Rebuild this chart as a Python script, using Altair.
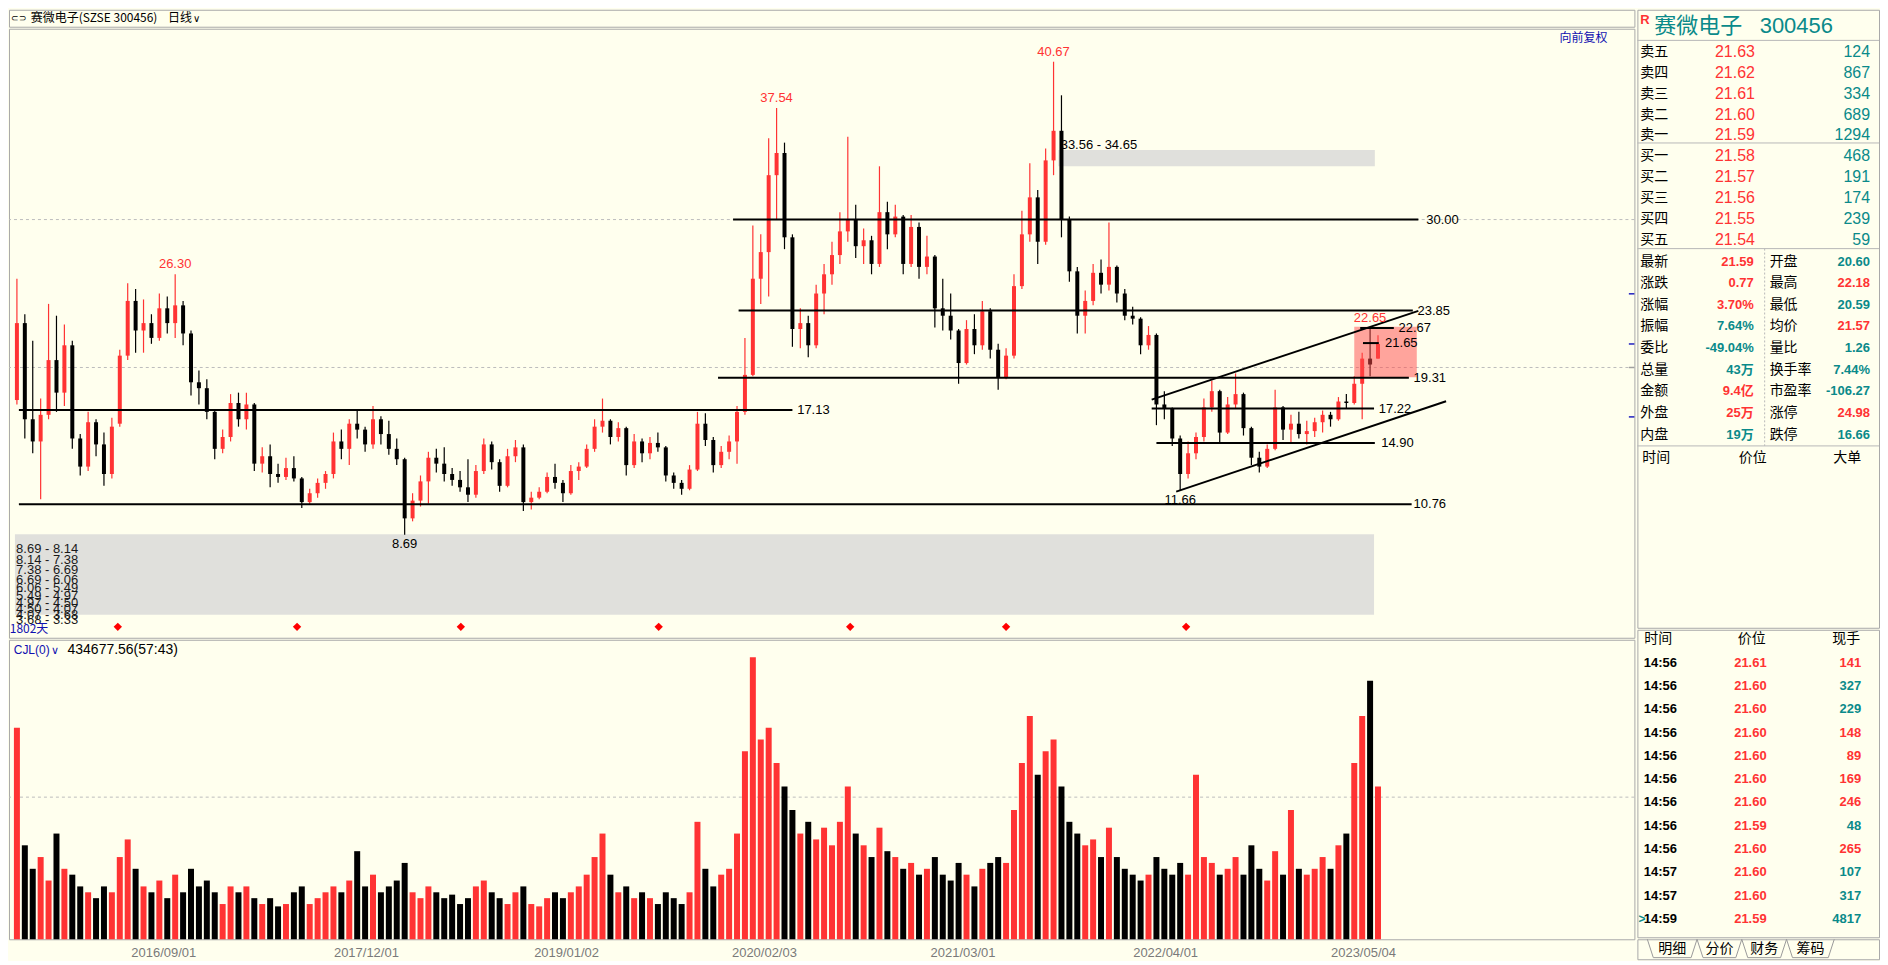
import altair as alt
import pandas as pd

# ---------------- price series (one candle per ~10 trading days) ----------------
opens = [17.8, 23.0, 16.5, 15.0, 16.8, 20.5, 18.3, 21.5, 15.2, 13.3,
         16.3, 14.8, 12.8, 16.2, 20.8, 24.5, 22.5, 23.0, 22.0, 24.0,
         23.0, 24.2, 22.3, 19.0, 18.6, 17.0, 14.5, 15.3, 17.6, 16.5,
         17.5, 13.5, 14.0, 12.8, 12.6, 13.2, 12.5, 10.9, 11.5, 12.2,
         12.8, 15.0, 14.5, 16.2, 15.8, 14.8, 16.5, 15.5, 14.5, 13.8,
         9.8, 11.0, 12.3, 13.9, 13.5, 12.8, 12.4, 11.9, 11.4, 13.0,
         14.8, 13.6, 12.0, 14.0, 14.6, 10.9, 11.2, 11.6, 12.6, 12.2,
         11.5, 13.0, 13.3, 14.5, 16.0, 16.4, 15.3, 15.9, 13.4, 15.0,
         14.2, 14.9, 14.6, 12.7, 12.2, 11.8, 13.1, 16.2, 15.1, 13.4,
         14.3, 15.0, 17.0, 19.5, 26.0, 27.8, 33.0, 34.5, 28.8, 22.6,
         23.0, 21.5, 25.0, 26.3, 27.6, 29.2, 30.0, 28.2, 28.6, 27.0,
         30.5, 29.0, 30.2, 27.0, 29.5, 26.8, 27.5, 24.0, 23.5, 22.5,
         20.3, 22.6, 21.5, 23.8, 21.2, 19.3, 20.8, 25.5, 29.0, 31.5,
         28.5, 34.0, 36.0, 30.0, 26.5, 23.5, 24.5, 26.4, 25.6, 26.8,
         25.0, 23.5, 23.3, 21.5, 22.2, 17.5, 17.2, 15.2, 12.8, 14.2,
         15.3, 17.3, 18.4, 15.6, 17.5, 18.2, 15.9, 13.9, 13.3, 14.5,
         17.3, 15.8, 16.2, 15.5, 15.7, 16.3, 16.8, 16.5, 17.7, 17.6,
         18.9, 20.6, 20.60]
highs = [26.0, 23.6, 21.8, 17.9, 24.3, 23.5, 22.9, 21.8, 15.5, 17.0,
         16.5, 15.6, 16.6, 21.2, 25.7, 25.3, 24.6, 23.6, 25.0, 24.8,
         26.3, 24.5, 22.5, 19.8, 19.2, 17.2, 15.8, 18.2, 18.3, 18.3,
         17.6, 14.6, 14.8, 13.5, 13.9, 14.0, 12.6, 11.8, 12.5, 13.0,
         15.6, 15.8, 16.5, 17.2, 16.0, 17.4, 16.7, 16.4, 15.2, 13.9,
         11.5, 12.7, 14.3, 14.5, 14.6, 13.2, 13.0, 13.8, 13.4, 15.2,
         15.0, 13.8, 14.5, 15.1, 14.8, 11.6, 11.9, 12.9, 13.5, 12.4,
         13.4, 13.6, 14.8, 16.5, 17.9, 16.5, 16.3, 16.0, 15.5, 15.2,
         15.3, 15.6, 14.7, 12.9, 12.4, 13.4, 17.0, 16.9, 15.3, 14.7,
         15.4, 17.4, 22.0, 29.6, 29.0, 35.5, 37.54, 35.2, 29.0, 24.0,
         23.5, 25.6, 27.0, 28.5, 30.5, 35.6, 31.0, 29.4, 28.9, 33.6,
         31.2, 31.0, 30.3, 30.3, 29.8, 28.9, 27.6, 26.0, 25.0, 22.6,
         23.2, 23.6, 24.5, 24.0, 21.6, 21.3, 26.3, 30.6, 33.8, 32.0,
         34.8, 40.67, 38.4, 30.2, 26.8, 25.2, 27.0, 27.3, 29.8, 26.9,
         25.3, 24.1, 23.4, 22.8, 22.3, 18.4, 17.3, 15.4, 15.0, 15.6,
         17.9, 19.1, 18.5, 18.0, 19.6, 18.3, 16.0, 14.3, 14.8, 18.5,
         17.4, 16.8, 17.0, 16.4, 16.6, 17.1, 17.0, 18.0, 18.2, 19.4,
         21.0, 22.65, 22.18]
lows = [17.5, 15.2, 14.2, 11.1, 16.5, 17.0, 17.4, 14.5, 12.7, 13.0,
        14.0, 12.0, 12.5, 16.0, 20.5, 21.0, 21.0, 21.6, 21.8, 22.3,
        22.0, 21.5, 18.1, 17.5, 16.5, 13.8, 14.2, 15.0, 16.0, 15.8,
        13.0, 12.9, 11.9, 12.2, 12.4, 12.3, 10.5, 10.7, 11.2, 11.8,
        12.5, 13.8, 13.4, 15.2, 14.3, 14.5, 14.8, 14.1, 13.4, 8.69,
        9.6, 10.6, 10.8, 12.9, 12.3, 12.0, 11.6, 10.9, 11.2, 12.8,
        13.1, 11.6, 11.9, 13.6, 10.3, 10.4, 11.1, 11.5, 11.8, 10.9,
        11.4, 12.4, 13.2, 14.3, 15.6, 14.8, 15.0, 12.7, 13.2, 13.6,
        13.8, 14.3, 12.3, 11.8, 11.4, 11.7, 13.0, 14.7, 12.9, 13.2,
        13.8, 13.5, 16.8, 19.4, 24.3, 24.8, 30.0, 28.0, 21.4, 21.3,
        20.7, 21.3, 23.6, 25.6, 27.0, 28.5, 27.4, 27.0, 26.3, 26.8,
        28.0, 28.8, 26.3, 26.8, 26.0, 26.3, 22.7, 22.5, 21.9, 18.9,
        20.2, 20.9, 21.2, 20.6, 18.5, 19.2, 20.6, 25.3, 28.5, 27.0,
        28.3, 33.0, 28.8, 25.8, 22.3, 22.3, 24.2, 25.0, 25.2, 24.4,
        23.2, 22.9, 20.9, 21.2, 16.1, 16.5, 14.7, 11.66, 12.5, 13.8,
        15.0, 17.0, 14.9, 15.5, 17.2, 15.4, 13.4, 12.9, 13.2, 14.4,
        15.1, 14.9, 15.2, 14.8, 15.3, 15.6, 16.0, 16.4, 17.2, 17.5,
        16.5, 19.4, 20.59]
closes = [23.0, 16.5, 15.0, 16.8, 20.5, 18.3, 21.5, 15.2, 13.3, 16.3,
          14.8, 12.8, 16.0, 20.8, 24.5, 22.5, 23.0, 22.0, 24.0, 23.0,
          24.2, 22.3, 19.0, 18.6, 17.0, 14.5, 15.3, 17.6, 16.5, 17.5,
          13.5, 14.0, 12.8, 12.6, 13.2, 12.5, 10.9, 11.5, 12.2, 12.8,
          15.0, 14.5, 16.2, 15.8, 14.8, 16.5, 15.5, 14.5, 13.8, 9.8,
          11.0, 12.3, 13.9, 13.5, 12.8, 12.4, 11.9, 11.4, 13.0, 14.8,
          13.6, 12.0, 14.0, 14.6, 10.9, 11.2, 11.6, 12.6, 12.2, 11.5,
          13.0, 13.3, 14.5, 16.0, 16.4, 15.3, 15.9, 13.4, 15.0, 14.2,
          14.9, 14.6, 12.7, 12.2, 11.8, 13.1, 16.2, 15.1, 13.4, 14.3,
          15.0, 17.0, 19.5, 26.0, 27.8, 33.0, 34.5, 28.8, 22.6, 23.0,
          21.5, 25.0, 26.3, 27.6, 29.2, 30.0, 28.2, 28.6, 27.0, 30.5,
          29.0, 30.2, 27.0, 29.5, 26.8, 27.5, 24.0, 23.5, 22.5, 20.3,
          22.6, 21.5, 23.8, 21.2, 19.3, 20.8, 25.5, 29.0, 31.5, 28.5,
          34.0, 36.0, 30.0, 26.5, 23.5, 24.5, 26.4, 25.6, 26.8, 25.0,
          23.5, 23.3, 21.5, 22.2, 17.5, 17.2, 15.2, 12.8, 14.2, 15.3,
          17.3, 18.4, 15.6, 17.5, 18.2, 15.9, 13.9, 13.3, 14.5, 17.3,
          15.8, 16.2, 15.5, 15.7, 16.3, 16.8, 16.5, 17.7, 17.6, 18.9,
          20.6, 20.2, 21.59]
volumes = [180, 80, 60, 70, 50, 90, 60, 55, 45, 40,
           35, 45, 40, 70, 85, 60, 45, 40, 50, 35,
           55, 40, 60, 45, 50, 40, 30, 45, 40, 45,
           35, 30, 35, 28, 30, 40, 45, 30, 35, 40,
           45, 40, 50, 75, 45, 55, 40, 45, 50, 65,
           40, 35, 45, 40, 35, 38, 30, 35, 45, 50,
           40, 35, 30, 40, 45, 30, 28, 35, 40, 35,
           40, 45, 55, 70, 90, 55, 40, 45, 35, 40,
           35, 30, 40, 35, 30, 40, 100, 60, 45, 55,
           60, 90, 160, 240, 170, 180, 150, 130, 110, 90,
           100, 85, 95, 80, 100, 130, 90, 80, 70, 95,
           75, 70, 60, 65, 55, 60, 70, 55, 50, 65,
           55, 45, 60, 65, 70, 65, 110, 150, 190, 140,
           160, 170, 130, 100, 90, 80, 85, 70, 95, 70,
           60, 55, 50, 55, 70, 60, 55, 65, 55, 140,
           70, 65, 55, 60, 70, 55, 80, 60, 50, 75,
           55, 110, 60, 55, 60, 70, 60, 80, 90, 150,
           190, 220, 130]

# ---------------- x-axis dates ----------------
date_labels = ["2016/09/01", "2017/12/01", "2019/01/02", "2020/02/03",
               "2021/03/01", "2022/04/01", "2023/05/04"]
date_index = [18.5, 44.1, 69.4, 94.4, 119.5, 145.1, 170.1]

# ---------------- drawn levels / channels ----------------
level_price = [30.00, 23.85, 19.31, 17.13, 17.22, 14.90, 10.76, 22.67, 21.65]
level_from = [90.5, 91.2, 88.6, 0.25, 143.4, 144.0, 0.25, 169.75, 170.1]
level_to = [177.1, 176.4, 175.9, 98.0, 171.5, 171.6, 176.25, 174.0, 172.1]
level_label_at = [178.1, 177.0, 176.5, 98.6, 172.1, 172.4, 176.5, 174.6, 172.9]

channel_from_i = [143.4, 146.5]
channel_from_p = [17.83, 11.61]
channel_to_i = [177.1, 180.6]
channel_to_p = [23.83, 17.72]

band_from = [131.6, -0.25]
band_to = [171.6, 171.5]
band_low = [33.60, 3.28]
band_high = [34.71, 8.73]
band_top_label = ["33.56 - 34.65"]
band_top_label_at = [131.9]

chip_upper = [8.69, 8.14, 7.38, 6.69, 6.06, 5.49, 4.97, 4.50, 4.07, 3.68]
chip_lower = [8.14, 7.38, 6.69, 6.06, 5.49, 4.97, 4.50, 4.07, 3.68, 3.33]

zone_from, zone_to, zone_low, zone_high = [169.0], [176.9], [19.34], [22.76]

peak_index = [20, 96, 131, 171]
trough_index = [49, 147]
signal_index = [12.75, 35.4, 56.1, 81.1, 105.3, 125.0, 147.75]

grid_prices = [30, 20]
vol_grid = [121]
edge_tick_prices = [24.98, 21.59, 16.66, 20.00]
edge_tick_kind = ["mark", "mark", "mark", "grid"]

# ---------------- right panel data ----------------
stock_name = "赛微电子"
stock_code = "300456"
ob_labels = ["卖五", "卖四", "卖三", "卖二", "卖一", "买一", "买二", "买三", "买四", "买五"]
ob_prices = [21.63, 21.62, 21.61, 21.60, 21.59, 21.58, 21.57, 21.56, 21.55, 21.54]
ob_volumes = [124, 867, 334, 689, 1294, 468, 191, 174, 239, 59]

stat_labels_1 = ["最新", "涨跌", "涨幅", "振幅", "委比", "总量", "金额", "外盘", "内盘"]
stat_values_1 = ["21.59", "0.77", "3.70%", "7.64%", "-49.04%", "43万", "9.4亿", "25万", "19万"]
stat_tone_1 = ["up", "up", "up", "down", "down", "down", "up", "up", "down"]
stat_labels_2 = ["开盘", "最高", "最低", "均价", "量比", "换手率", "市盈率", "涨停", "跌停"]
stat_values_2 = ["20.60", "22.18", "20.59", "21.57", "1.26", "7.44%", "-106.27", "24.98", "16.66"]
stat_tone_2 = ["down", "up", "down", "up", "down", "down", "down", "up", "down"]

trade_times = ["14:56"] * 9 + ["14:57", "14:57", "14:59"]
trade_prices = [21.61, 21.60, 21.60, 21.60, 21.60, 21.60, 21.60, 21.59, 21.60, 21.60, 21.60, 21.59]
trade_qty = [141, 327, 229, 148, 89, 169, 246, 48, 265, 107, 317, 4817]
trade_side = ["B", "S", "S", "B", "B", "B", "B", "S", "B", "S", "S", "S"]
tab_names = ["明细", "分价", "财务", "筹码"]

# ---------------- style / layout ----------------
BG = "#ffffee"
RED = "#ff3333"
TEAL = "#0a8a8a"
BLUE = "#1010b0"
BAND = "#e0e0dc"
GRID = "#bdbdbd"
NUM = "Liberation Sans"
CJK = "Noto Sans CJK SC"
CANDLE_COL = {"up": RED, "down": "#000000"}
QUOTE_COL = {"up": RED, "down": TEAL}
SIDE_COL = {"B": RED, "S": TEAL}
TICK_COL = {"mark": "#2020c0", "grid": "#a0a0a0"}

W_L, W_R = 1628, 242
H_TITLE, H_MAIN, H_VOL = 17, 610, 300
H_RT, H_RB, H_TAB = 619, 308, 20

xs = alt.Scale(domain=[-1, 204.4], nice=False, zero=False)
ys = alt.Scale(domain=[1.73, 42.90], nice=False, zero=False)
vs = alt.Scale(domain=[0, 255], nice=False, zero=False)


def qx(f, axis=None):
    return alt.X(f"{f}:Q", scale=xs, axis=axis, title=None)


def qy(f, sc=ys):
    return alt.Y(f"{f}:Q", scale=sc, axis=None, title=None)


def raw_color(field):
    return alt.Color(f"{field}:N", scale=None, legend=None)


def text_layer(df, xf, yf, xsc, ysc, align="left", size=14, font=NUM, weight="normal",
               color="#000000", baseline="middle", text="text:N", dx=0, dy=0, xaxis=None):
    enc = {"x": alt.X(f"{xf}:Q", scale=xsc, axis=xaxis, title=None),
           "y": alt.Y(f"{yf}:Q", scale=ysc, axis=None, title=None),
           "text": text}
    kw = dict(align=align, baseline=baseline, fontSize=size, font=font,
              fontWeight=weight, dx=dx, dy=dy)
    if isinstance(color, str):
        kw["color"] = color
    else:
        enc["color"] = color
    return alt.Chart(df).mark_text(**kw).encode(**enc)


n = len(closes)
candles = pd.DataFrame({
    "i": list(range(n)), "open": opens, "high": highs, "low": lows, "close": closes,
    "vol": volumes, "base": [0] * n,
})
candles["col"] = [CANDLE_COL["up"] if c >= o else CANDLE_COL["down"] for o, c in zip(opens, closes)]

# ---------------- title bar ----------------
ty = alt.Scale(domain=[0, 1], nice=False, zero=False)
title_bar = alt.layer(
    text_layer(pd.DataFrame({"x": [-0.75], "y": [0.5], "text": ["⊂⊃"]}), "x", "y", xs, ty, size=9),
    text_layer(pd.DataFrame({"x": [1.75, 19.1], "y": [0.5, 0.5],
                             "text": [f"{stock_name}(SZSE {stock_code})", "日线"]}),
               "x", "y", xs, ty, size=12, font=CJK),
    text_layer(pd.DataFrame({"x": [22.3], "y": [0.45], "text": ["∨"]}), "x", "y", xs, ty, size=10),
).properties(width=W_L, height=H_TITLE)

# ---------------- main price panel ----------------
grid = alt.Chart(pd.DataFrame({"p": grid_prices})).mark_rule(
    color=GRID, strokeDash=[3, 3], strokeWidth=1).encode(y=qy("p"))

bands = alt.Chart(pd.DataFrame({"x0": band_from, "x1": band_to, "lo": band_low, "hi": band_high})
                  ).mark_rect(color=BAND).encode(x=qx("x0"), x2="x1:Q", y=qy("lo"), y2="hi:Q")

wicks = alt.Chart(candles).mark_rule(strokeWidth=1.2).encode(
    x=qx("i"), y=qy("low"), y2="high:Q", color=raw_color("col"))
bodies = alt.Chart(candles).mark_rule(strokeWidth=4).encode(
    x=qx("i"), y=qy("open"), y2="close:Q", color=raw_color("col"))

zone = alt.Chart(pd.DataFrame({"x0": zone_from, "x1": zone_to, "lo": zone_low, "hi": zone_high})
                 ).mark_rect(color="#ff4a4a", opacity=0.5).encode(x=qx("x0"), x2="x1:Q", y=qy("lo"), y2="hi:Q")

levels_df = pd.DataFrame({"price": level_price, "x0": level_from, "x1": level_to, "lx": level_label_at})
levels = alt.Chart(levels_df).mark_rule(color="#000000", strokeWidth=2).encode(
    x=qx("x0"), x2="x1:Q", y=qy("price"))
level_labels = text_layer(levels_df, "lx", "price", xs, ys, size=13,
                          text=alt.Text("price:Q", format=".2f"))

channels = alt.Chart(pd.DataFrame({"x0": channel_from_i, "p0": channel_from_p,
                                   "x1": channel_to_i, "p1": channel_to_p})
                     ).mark_rule(color="#000000", strokeWidth=2).encode(
    x=qx("x0"), x2="x1:Q", y=qy("p0"), y2="p1:Q")

peaks_df = pd.DataFrame({"i": peak_index, "high": [highs[k] for k in peak_index]})
peak_labels = text_layer(peaks_df, "i", "high", xs, ys, align="center", size=13, color=RED,
                         baseline="bottom", dy=-3, text=alt.Text("high:Q", format=".2f"))
troughs_df = pd.DataFrame({"i": trough_index, "low": [lows[k] for k in trough_index]})
trough_labels = text_layer(troughs_df, "i", "low", xs, ys, align="center", size=13,
                           baseline="top", dy=3, text=alt.Text("low:Q", format=".2f"))

chip_df = pd.DataFrame({"x": [-0.1] * len(chip_lower), "lo": chip_lower,
                        "text": [f"{a:.2f} - {b:.2f}" for a, b in zip(chip_upper, chip_lower)]})
chip_labels = text_layer(chip_df, "x", "lo", xs, ys, size=13, color="#1a1a1a", baseline="top")
band_label = text_layer(pd.DataFrame({"x": band_top_label_at, "p": [band_high[0]], "text": band_top_label}),
                        "x", "p", xs, ys, size=13, baseline="bottom", dy=2)

SIGNAL_LEVEL = 2.47
diamonds = alt.Chart(pd.DataFrame({"i": signal_index, "p": [SIGNAL_LEVEL] * len(signal_index)})
                     ).mark_point(shape="diamond", filled=True, color="#ff0000", size=70, opacity=1).encode(
    x=qx("i"), y=qy("p"))

days_label = text_layer(pd.DataFrame({"x": [-0.9], "p": [2.3], "text": ["1802天"]}),
                        "x", "p", xs, ys, size=12, font=CJK, color=BLUE)
fq_label = text_layer(pd.DataFrame({"x": [201.0], "p": [42.25], "text": ["向前复权"]}),
                      "x", "p", xs, ys, align="right", size=12, font=CJK, color=BLUE)

ticks_df = pd.DataFrame({"x0": [203.7] * 4, "x1": [204.4] * 4, "p": edge_tick_prices,
                         "col": [TICK_COL[k] for k in edge_tick_kind]})
ticks = alt.Chart(ticks_df).mark_rule(strokeWidth=1.5).encode(
    x=qx("x0"), x2="x1:Q", y=qy("p"), color=raw_color("col"))

main = alt.layer(grid, bands, wicks, bodies, zone, levels, channels, level_labels,
                 peak_labels, trough_labels, chip_labels, band_label, diamonds,
                 days_label, fq_label, ticks).properties(width=W_L, height=H_MAIN)

# ---------------- volume panel ----------------
expr = "''"
for p, lab in reversed(list(zip(date_index, date_labels))):
    expr = f"abs(datum.value - {p}) < 0.01 ? '{lab}' : ({expr})"
date_axis = alt.Axis(values=date_index, labelExpr=expr, ticks=False, domain=False, grid=False,
                     labelColor="#7a7a7a", labelFont=NUM, labelFontSize=13, labelPadding=7,
                     labelFlush=False, labelOverlap=False)

vol_grid_layer = alt.Chart(pd.DataFrame({"v": vol_grid})).mark_rule(
    color=GRID, strokeDash=[3, 3], strokeWidth=1).encode(y=qy("v", vs))
vol_bars = alt.Chart(candles).mark_rule(strokeWidth=6).encode(
    x=qx("i", date_axis), y=qy("vol", vs), y2="base:Q", color=raw_color("col"))
VOL_LABEL_LEVEL = 246
cjl_blue = text_layer(pd.DataFrame({"x": [-0.4], "v": [VOL_LABEL_LEVEL], "text": ["CJL(0)"]}),
                      "x", "v", xs, vs, size=12, color=BLUE, xaxis=date_axis)
cjl_chev = text_layer(pd.DataFrame({"x": [4.3], "v": [VOL_LABEL_LEVEL - 1], "text": ["∨"]}),
                      "x", "v", xs, vs, size=11, color=BLUE, xaxis=date_axis)
cjl_val = text_layer(pd.DataFrame({"x": [6.4], "v": [VOL_LABEL_LEVEL], "text": ["434677.56(57:43)"]}),
                     "x", "v", xs, vs, size=14, xaxis=date_axis)
volume = alt.layer(vol_grid_layer, vol_bars, cjl_blue, cjl_chev, cjl_val).properties(width=W_L, height=H_VOL)

left = alt.vconcat(title_bar, main, volume, spacing=0)

# ---------------- right top: quote board ----------------
rx = alt.Scale(domain=[0, 243], nice=False, zero=False)
ry = alt.Scale(domain=[-1.02, 28.58], nice=False, zero=False, reverse=True)

STAT_R0, STAT_DR = 11.04, 1.0355
ob_df = pd.DataFrame({"r": list(range(1, 11)), "label": ob_labels, "price": ob_prices, "vol": ob_volumes})
st_df = pd.DataFrame({"r": [STAT_R0 + k * STAT_DR for k in range(9)],
                      "l1": stat_labels_1, "v1": stat_values_1,
                      "c1": [QUOTE_COL[t] for t in stat_tone_1],
                      "l2": stat_labels_2, "v2": stat_values_2,
                      "c2": [QUOTE_COL[t] for t in stat_tone_2]})

rt_layers = [
    alt.Chart(pd.DataFrame({"r": [0.447, 5.36, 10.42, 19.87]})).mark_rule(color="#b8b8b8").encode(
        y=alt.Y("r:Q", scale=ry, axis=None)),
    alt.Chart(pd.DataFrame({"x": [128], "r0": [10.42], "r1": [19.87]})).mark_rule(
        color="#b8b8b8", strokeDash=[2, 2]).encode(
        x=alt.X("x:Q", scale=rx, axis=None), y=alt.Y("r0:Q", scale=ry, axis=None), y2="r1:Q"),
    text_layer(pd.DataFrame({"x": [3], "r": [-0.55], "text": ["R"]}), "x", "r", rx, ry,
               size=13, weight="bold", color=RED),
    text_layer(pd.DataFrame({"x": [17], "r": [-0.26], "text": [stock_name]}), "x", "r", rx, ry,
               size=22, font=CJK, color=TEAL),
    text_layer(pd.DataFrame({"x": [123], "r": [-0.26], "text": [stock_code]}), "x", "r", rx, ry,
               size=22, color=TEAL),
    text_layer(ob_df.assign(x=3), "x", "r", rx, ry, size=14, font=CJK, text="label:N"),
    text_layer(ob_df.assign(x=78), "x", "r", rx, ry, size=16, color=RED,
               text=alt.Text("price:Q", format=".2f")),
    text_layer(ob_df.assign(x=234), "x", "r", rx, ry, align="right", size=16, color=TEAL,
               text="vol:Q"),
    text_layer(st_df.assign(x=3), "x", "r", rx, ry, size=14, font=CJK, text="l1:N"),
    text_layer(st_df.assign(x=133), "x", "r", rx, ry, size=14, font=CJK, text="l2:N"),
    text_layer(st_df.assign(x=117), "x", "r", rx, ry, align="right", size=13, weight="bold",
               font=f"{NUM}, {CJK}", text="v1:N", color=raw_color("c1")),
    text_layer(st_df.assign(x=234), "x", "r", rx, ry, align="right", size=13, weight="bold",
               font=f"{NUM}, {CJK}", text="v2:N", color=raw_color("c2")),
    text_layer(pd.DataFrame({"x": [5], "r": [20.45], "text": ["时间"]}), "x", "r", rx, ry, size=14, font=CJK),
    text_layer(pd.DataFrame({"x": [116], "r": [20.45], "text": ["价位"]}), "x", "r", rx, ry,
               align="center", size=14, font=CJK),
    text_layer(pd.DataFrame({"x": [225], "r": [20.45], "text": ["大单"]}), "x", "r", rx, ry,
               align="right", size=14, font=CJK),
]
right_top = alt.layer(*rt_layers).properties(width=W_R, height=H_RT)

# ---------------- right bottom: trade ticks ----------------
by = alt.Scale(domain=[-0.417, 12.79], nice=False, zero=False, reverse=True)
tr_df = pd.DataFrame({"r": list(range(1, 13)), "time": trade_times, "price": trade_prices,
                      "qty": trade_qty, "col": [SIDE_COL[s] for s in trade_side]})
rb_layers = [
    text_layer(pd.DataFrame({"x": [7], "r": [0], "text": ["时间"]}), "x", "r", rx, by, size=14, font=CJK),
    text_layer(pd.DataFrame({"x": [115], "r": [0], "text": ["价位"]}), "x", "r", rx, by,
               align="center", size=14, font=CJK),
    text_layer(pd.DataFrame({"x": [224], "r": [0], "text": ["现手"]}), "x", "r", rx, by,
               align="right", size=14, font=CJK),
    text_layer(tr_df.assign(x=6.5), "x", "r", rx, by, size=13, weight="bold", text="time:N"),
    text_layer(tr_df.assign(x=130), "x", "r", rx, by, align="right", size=13, weight="bold",
               color=RED, text=alt.Text("price:Q", format=".2f")),
    text_layer(tr_df.assign(x=225), "x", "r", rx, by, align="right", size=13, weight="bold",
               text="qty:Q", color=raw_color("col")),
    text_layer(pd.DataFrame({"x": [1.2], "r": [12], "text": [">"]}), "x", "r", rx, by,
               size=12, weight="bold", color=TEAL),
]
right_bottom = alt.layer(*rb_layers).properties(width=W_R, height=H_RB)

# ---------------- tabs ----------------
tab_left = [10, 60, 105, 150]
tab_right = [60, 105, 150, 198]
tyb = alt.Scale(domain=[0, 1], nice=False, zero=False)
tabs_df = pd.DataFrame({"a": tab_left, "b": tab_right, "text": tab_names})
tabs_df["c"] = (tabs_df["a"] + tabs_df["b"]) / 2
tabs_df["a2"] = tabs_df["a"] + 6
tabs_df["b2"] = tabs_df["b"] - 6
tabs_df["top"] = 1.0
tabs_df["bot"] = 0.08
edge_col = "#9a9a9a"
tabs = alt.layer(
    alt.Chart(tabs_df).mark_rule(color=edge_col).encode(
        x=alt.X("a:Q", scale=rx, axis=None), x2="a2:Q", y=alt.Y("top:Q", scale=tyb, axis=None), y2="bot:Q"),
    alt.Chart(tabs_df).mark_rule(color=edge_col).encode(
        x=alt.X("b:Q", scale=rx, axis=None), x2="b2:Q", y=alt.Y("top:Q", scale=tyb, axis=None), y2="bot:Q"),
    alt.Chart(tabs_df).mark_rule(color=edge_col).encode(
        x=alt.X("a2:Q", scale=rx, axis=None), x2="b2:Q", y=alt.Y("bot:Q", scale=tyb, axis=None)),
    text_layer(tabs_df.assign(y=0.52), "c", "y", rx, tyb, align="center", size=14, font=CJK),
).properties(width=W_R, height=H_TAB)

right = alt.vconcat(right_top, right_bottom, tabs, spacing=0)

chart = alt.hconcat(left, right, spacing=0).properties(
    padding=0, background=BG
).configure_view(stroke="#a9a9a9", strokeWidth=1, fill=BG)

chart.save("out.html", embed_options={"renderer": "svg", "actions": False})
